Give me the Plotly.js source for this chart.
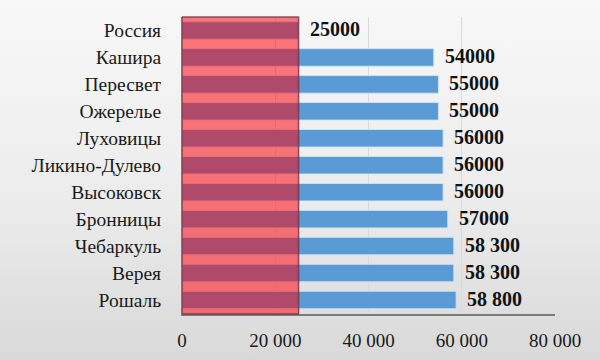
<!DOCTYPE html>
<html>
<head>
<meta charset="utf-8">
<script src="https://cdn.plot.ly/plotly-3.0.1.min.js"></script>
<style>
html, body { margin: 0; padding: 0; }
body { width: 600px; height: 360px; background: linear-gradient(to bottom, #f8f8f8 0%, #ececec 55%, #d9d9d9 100%); }
#chart { width: 600px; height: 360px; }
</style>
</head>
<body>
<div id="chart"></div>
<script>
const categories = ["Россия", "Кашира", "Пересвет", "Ожерелье", "Луховицы", "Ликино-Дулево", "Высоковск", "Бронницы", "Чебаркуль", "Верея", "Рошаль"];
const values = [25000, 54000, 55000, 55000, 56000, 56000, 56000, 57000, 58300, 58300, 58800];
const valueLabels = ["25000", "54000", "55000", "55000", "56000", "56000", "56000", "57000", "58 300", "58 300", "58 800"];
const tickValues = [0, 20000, 40000, 60000, 80000];
const tickLabels = ["0", "20 000", "40 000", "60 000", "80 000"];
const highlightValue = values[0];

const trace = {
  type: "bar",
  orientation: "h",
  x: values,
  y: categories,
  marker: { color: "#5b9bd5", line: { color: "rgba(210,228,245,0.9)", width: 1 } },
  hoverinfo: "none"
};

const annotations = categories.map((c, i) => ({
  x: values[i], y: c, xref: "x", yref: "y",
  text: valueLabels[i], showarrow: false,
  xanchor: "left", yanchor: "middle", xshift: 9, yshift: 1,
  font: { family: "Liberation Serif", size: 20, color: "#111111", weight: "bold" }
}));

const layout = {
  width: 600, height: 360,
  margin: { l: 182, r: 45, t: 17, b: 46 },
  paper_bgcolor: "rgba(0,0,0,0)",
  plot_bgcolor: "rgba(0,0,0,0)",
  bargap: 0.35,
  showlegend: false,
  font: { family: "Liberation Serif", size: 19, color: "#1a1a1a" },
  xaxis: {
    range: [0, 80000],
    tickvals: tickValues, ticktext: tickLabels,
    showgrid: true, gridcolor: "#dadada", gridwidth: 1,
    zeroline: false,
    showline: true, linecolor: "#7a7a7a", linewidth: 2,
    ticks: "outside", ticklen: 8, tickcolor: "rgba(0,0,0,0)",
    tickfont: { family: "Liberation Serif", size: 19, color: "#1a1a1a" },
    fixedrange: true
  },
  yaxis: {
    type: "category",
    autorange: "reversed",
    showgrid: false, zeroline: false,
    showline: true, linecolor: "#7a7a7a", linewidth: 1,
    ticks: "", ticklabelstandoff: 16,
    tickfont: { family: "Liberation Serif", size: 19.5, color: "#1a1a1a" },
    fixedrange: true
  },
  shapes: [{
    type: "rect", layer: "above",
    xref: "x", yref: "paper",
    x0: 0, x1: highlightValue, y0: 0, y1: 1,
    fillcolor: "rgba(255,0,10,0.52)",
    line: { color: "rgba(110,50,70,0.8)", width: 1.5 }
  }],
  annotations: annotations
};

Plotly.newPlot("chart", [trace], layout, { displayModeBar: false, staticPlot: true });
</script>
</body>
</html>
